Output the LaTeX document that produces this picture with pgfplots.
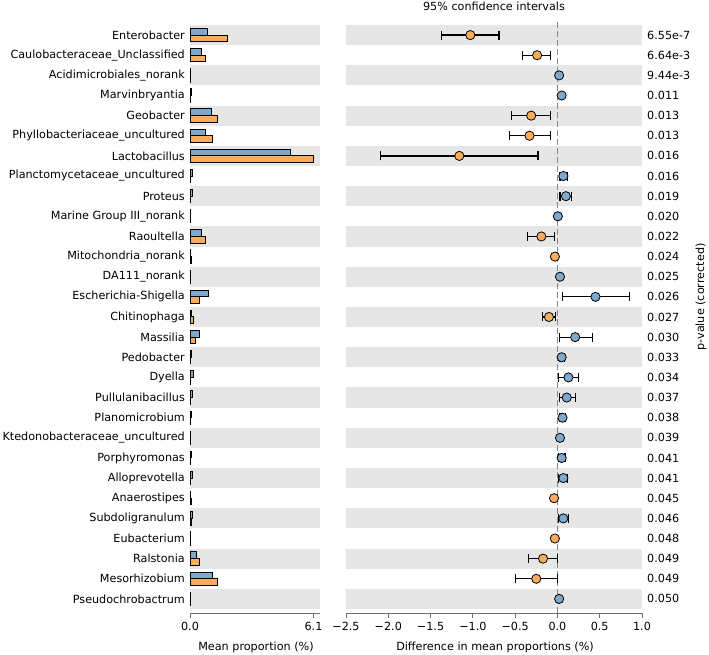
\documentclass[border=0pt]{standalone}
\usepackage{pgfplots}
\usepackage{pgfplotstable}
\pgfplotsset{compat=1.18}
\usepackage{fontspec}
\setmainfont{DejaVu Sans}
\definecolor{cblue}{RGB}{126,168,204}
\definecolor{corange}{RGB}{248,172,92}
\definecolor{band}{RGB}{230,230,230}
\definecolor{spine}{RGB}{110,110,110}
\definecolor{zline}{RGB}{135,135,135}

\pgfplotstableread{
y b o
28 0.86 1.87
27 0.55 0.79
26 0.03 0.01
25 0.05 0.01
24 1.04 1.34
23 0.78 1.11
22 4.98 6.10
21 0.10 0.03
20 0.12 0.03
19 0.01 0.004
18 0.57 0.75
17 0.02 0.05
16 0.04 0.01
15 0.90 0.45
14 0.06 0.16
13 0.47 0.26
12 0.07 0.02
11 0.16 0.03
10 0.14 0.03
9 0.07 0.01
8 0.04 0.01
7 0.07 0.02
6 0.11 0.04
5 0.01 0.05
4 0.12 0.05
3 0.01 0.04
2 0.30 0.47
1 1.10 1.35
0 0.03 0.01
}\bars

\pgfplotstableread{
y d ep em
28 -1.03 0.34 0.34
27 -0.24 0.16 0.17
24 -0.31 0.23 0.23
23 -0.33 0.25 0.24
22 -1.16 0.93 0.93
18 -0.19 0.16 0.16
14 -0.10 0.08 0.08
2 -0.17 0.17 0.17
1 -0.25 0.25 0.25
}\orangeci

\pgfplotstableread{
y d
17 -0.03
5 -0.04
3 -0.03
}\orangept

\pgfplotstableread{
y d ep em
21 0.07 0.05 0.04
20 0.10 0.07 0.07
15 0.45 0.40 0.39
13 0.21 0.20 0.19
12 0.05 0.03 0.03
11 0.13 0.12 0.115
10 0.11 0.10 0.09
9 0.06 0.04 0.03
7 0.05 0.04 0.04
6 0.07 0.05 0.06
4 0.07 0.06 0.06
}\blueci

\pgfplotstableread{
y d
26 0.02
25 0.05
19 0.005
16 0.03
8 0.03
0 0.02
}\bluept

\pgfplotsset{
  panel/.style={
    scale only axis,
    height=592pt,
    ymin=-0.7, ymax=28.7,
    axis x line*=bottom,
    x axis line style={spine, line width=1pt, -},
    y axis line style={draw=none},
    ytick={0,...,28},
    ytick style={draw=none},
    xtick style={spine, line width=1pt},
    tick align=outside,
    major tick length=5pt,
    xticklabel style={inner sep=0pt, yshift=-4pt},
    anchor=south west,
  },
  cipts/.style={only marks, mark=*, mark size=4.6pt,
    mark options={fill=#1, draw=black, line width=0.8pt},
    error bars/.cd, x dir=both, x explicit,
    error bar style={line width=1.2pt, black},
    error mark=|,
    error mark options={mark size=4.5pt, line width=1.2pt, black}},
  pts/.style={only marks, mark=*, mark size=4.6pt,
    mark options={fill=#1, draw=black, line width=0.8pt}},
}

\begin{document}
\fontsize{11.2}{13.2}\selectfont
\begin{tikzpicture}
\useasboundingbox (0,0) rectangle (709pt,654pt);

% left panel: mean proportions
\begin{axis}[panel,
  at={(190pt,41pt)}, width=130pt,
  xmin=0, xmax=6.42,
  axis y line*=left,
  xtick={0,6.1}, xticklabels={0.0,6.1},
  yticklabels={Pseudochrobactrum,Mesorhizobium,Ralstonia,Eubacterium,Subdoligranulum,Anaerostipes,Alloprevotella,Porphyromonas,Ktedonobacteraceae\_uncultured,Planomicrobium,Pullulanibacillus,Dyella,Pedobacter,Massilia,Chitinophaga,Escherichia-Shigella,DA111\_norank,Mitochondria\_norank,Raoultella,Marine Group III\_norank,Proteus,Planctomycetaceae\_uncultured,Lactobacillus,Phyllobacteriaceae\_uncultured,Geobacter,Marvinbryantia,Acidimicrobiales\_norank,Caulobacteraceae\_Unclassified,Enterobacter},
  yticklabel style={anchor=east, inner sep=0pt},
]
\pgfplotsinvokeforeach{0,2,...,28}{
  \fill[band] (axis cs:0,#1-0.5) rectangle (axis cs:6.42,#1+0.5);
}
\addplot[xbar, bar width=0.33, bar shift=0.165, fill=cblue, draw=black, line width=1pt] table[x=b, y=y] {\bars};
\addplot[xbar, bar width=0.33, bar shift=-0.165, fill=corange, draw=black, line width=1pt] table[x=o, y=y] {\bars};
\end{axis}

% right panel: differences with CIs
\begin{axis}[panel,
  at={(346pt,41pt)}, width=296pt,
  xmin=-2.5, xmax=1.0,
  axis y line*=right,
  xtick={-2.5,-2,-1.5,-1,-0.5,0,0.5,1},
  xticklabels={−2.5,−2.0,−1.5,−1.0,−0.5,0.0,0.5,1.0},
  yticklabels={0.050,0.049,0.049,0.048,0.046,0.045,0.041,0.041,0.039,0.038,0.037,0.034,0.033,0.030,0.027,0.026,0.025,0.024,0.022,0.020,0.019,0.016,0.016,0.013,0.013,0.011,9.44e-3,6.64e-3,6.55e-7},
  yticklabel style={anchor=west, inner sep=0pt},
]
\pgfplotsinvokeforeach{0,2,...,28}{
  \fill[band] (axis cs:-2.5,#1-0.5) rectangle (axis cs:1.0,#1+0.5);
}
\draw[zline, line width=1.5pt, dash pattern=on 6pt off 3pt] (axis cs:0,-0.7) -- (axis cs:0,28.7);
\addplot[cipts=corange] table[x=d, y=y, x error plus=ep, x error minus=em] {\orangeci};
\addplot[pts=corange] table[x=d, y=y] {\orangept};
\addplot[cipts=cblue] table[x=d, y=y, x error plus=ep, x error minus=em] {\blueci};
\addplot[pts=cblue] table[x=d, y=y] {\bluept};
\end{axis}

\node[anchor=base] at (494pt,643pt) {95\% confidence intervals};
\node[anchor=base] at (256pt,4pt) {Mean proportion (\%)};
\node[anchor=base] at (495pt,4pt) {Difference in mean proportions (\%)};
\node[rotate=90, anchor=center] at (701pt,357pt) {p-value (corrected)};
\end{tikzpicture}
\end{document}
